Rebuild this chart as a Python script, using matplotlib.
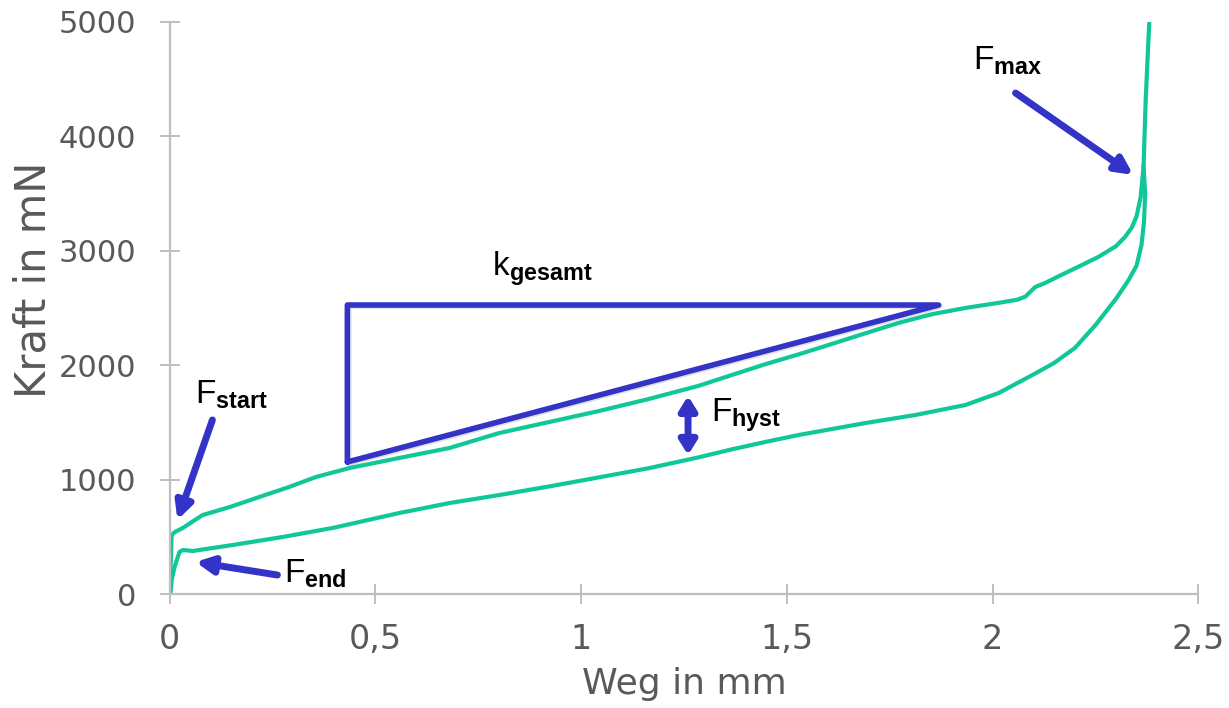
import matplotlib.pyplot as plt
import matplotlib.patheffects as pe
from matplotlib.ticker import FuncFormatter

# Belastung (obere Kurve)
weg_last = [0.0, 0.003, 0.005, 0.012, 0.032, 0.08, 0.146, 0.218, 0.29, 0.356, 0.437,
            0.558, 0.68, 0.801, 0.922, 1.044, 1.165, 1.286, 1.367, 1.449, 1.529,
            1.609, 1.692, 1.772, 1.852, 1.934, 2.015, 2.06, 2.08, 2.104, 2.128,
            2.177, 2.22, 2.257, 2.3, 2.322, 2.338, 2.35, 2.36, 2.367, 2.372, 2.377, 2.381]
kraft_last = [0, 300, 516, 540, 577, 690, 760, 848, 935, 1023, 1101,
              1189, 1276, 1407, 1503, 1600, 1705, 1820, 1915, 2010, 2095,
              2185, 2280, 2370, 2445, 2500, 2545, 2572, 2600, 2684, 2719,
              2806, 2880, 2946, 3040, 3121, 3200, 3300, 3470, 3733, 4300, 4700, 5000]

# Entlastung (untere Kurve)
weg_ent = [2.367, 2.371, 2.368, 2.362, 2.35, 2.33, 2.3, 2.25, 2.2, 2.15, 2.1, 2.015,
           1.934, 1.813, 1.692, 1.529, 1.449, 1.367, 1.286, 1.165, 1.044, 0.922, 0.801,
           0.68, 0.558, 0.396, 0.274, 0.153, 0.056, 0.032, 0.024, 0.012, 0.005, 0.002]
kraft_ent = [3733, 3500, 3250, 3050, 2870, 2740, 2580, 2350, 2150, 2020, 1920, 1757,
             1652, 1565, 1495, 1390, 1330, 1265, 1195, 1100, 1020, 940, 865,
             795, 708, 577, 498, 428, 376, 385, 367, 236, 122, 0]

# Steigungsdreieck k_gesamt
dreieck_x = [0.432, 0.432, 1.869, 0.432]
dreieck_y = [1154, 2526, 2526, 1154]

gruen = '#10c897'
blau = '#3333c8'
grau = '#595959'

plt.rcParams['mathtext.fontset'] = 'custom'
plt.rcParams['mathtext.rm'] = 'Liberation Sans'
plt.rcParams['mathtext.bf'] = 'Liberation Sans:bold'

fig = plt.figure(figsize=(12.29, 7.08), dpi=100)
ax = fig.add_axes([0.138, 0.161, 0.837, 0.808])

ax.plot(weg_last, kraft_last, color=gruen, lw=3.0, solid_joinstyle='round')
ax.plot(weg_ent, kraft_ent, color=gruen, lw=3.0, solid_joinstyle='round')

schatten = [pe.SimpleLineShadow(offset=(1, -1), alpha=0.12), pe.Normal()]
ax.plot(dreieck_x, dreieck_y, color=blau, lw=4.0, solid_joinstyle='round',
        solid_capstyle='round', path_effects=schatten)

pfeil = dict(arrowstyle='-|>,head_length=1.0,head_width=0.5', color=blau, lw=5,
             shrinkA=0, shrinkB=0,
             path_effects=[pe.SimplePatchShadow(offset=(1.5, -1.5), alpha=0.25), pe.Normal()])
doppel = dict(pfeil)
doppel['arrowstyle'] = '<|-|>,head_length=0.8,head_width=0.5'

ax.annotate('', xy=(2.342, 3663), xytext=(2.056, 4379), arrowprops=pfeil)
ax.annotate('', xy=(0.019, 647), xytext=(0.104, 1521), arrowprops=pfeil)
ax.annotate('', xy=(0.063, 280), xytext=(0.262, 166), arrowprops=pfeil)
ax.annotate('', xy=(1.26, 1215), xytext=(1.26, 1731), arrowprops=doppel)

txt = dict(fontsize=24, color='black', va='center', ha='left')
ax.text(1.952, 4660, r'$\mathrm{F}_{\mathbf{max}}$', **txt)
ax.text(0.062, 1740, r'$\mathrm{F}_{\mathbf{start}}$', **txt)
ax.text(0.279, 175, r'$\mathrm{F}_{\mathbf{end}}$', **txt)
ax.text(1.315, 1560, r'$\mathrm{F}_{\mathbf{hyst}}$', **txt)
ax.text(0.783, 2840, r'$\mathrm{k}_{\mathbf{gesamt}}$', **txt)

ax.set_xlim(0, 2.5)
ax.set_ylim(0, 5000)
ax.set_xticks([0, 0.5, 1, 1.5, 2, 2.5])
ax.set_yticks([0, 1000, 2000, 3000, 4000, 5000])
ax.xaxis.set_major_formatter(FuncFormatter(lambda v, p: f'{v:g}'.replace('.', ',')))

for s in ['top', 'right']:
    ax.spines[s].set_visible(False)
for s in ['left', 'bottom']:
    ax.spines[s].set_color('#bfbfbf')
    ax.spines[s].set_linewidth(1.6)

ax.tick_params(axis='both', direction='inout', length=14, width=1.4, color='#bfbfbf',
               labelcolor=grau)
ax.tick_params(axis='y', pad=17, labelsize=22)
ax.tick_params(axis='x', pad=14, labelsize=24)

ax.set_xlabel('Weg in mm', fontsize=26, color=grau, labelpad=8)
ax.set_ylabel('Kraft in mN', fontsize=30, color=grau)
ax.yaxis.set_label_coords(-0.112, 0.55)

fig.savefig('out.png', dpi=100)
